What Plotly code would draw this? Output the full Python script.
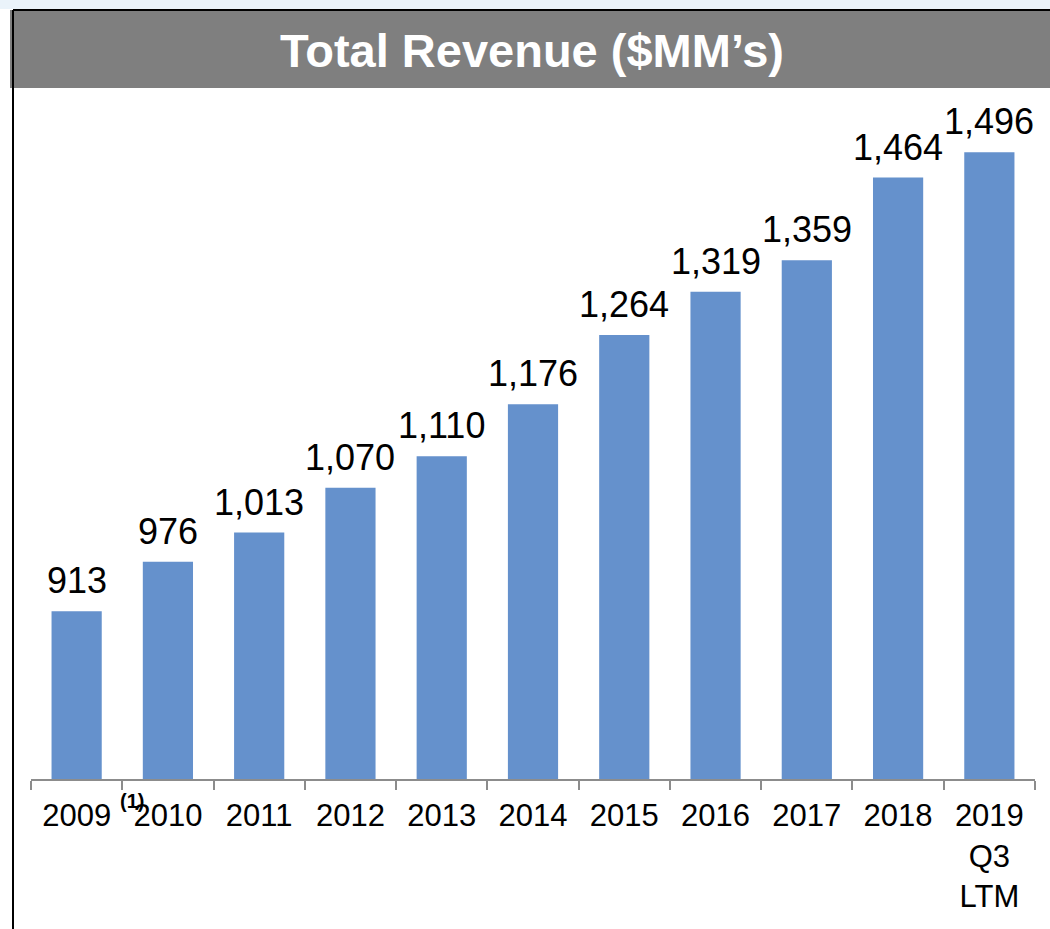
import plotly.graph_objects as go

# ---- data ----
categories = ["2009", "2010", "2011", "2012", "2013", "2014", "2015",
              "2016", "2017", "2018", "2019<br>Q3<br>LTM"]
revenue = [913, 976, 1013, 1070, 1110, 1176, 1264, 1319, 1359, 1464, 1496]
title_text = "Total Revenue ($MM\u2019s)"
footnote_text = "(1)"

FONT = "Liberation Sans, Arial, sans-serif"
BAR_COLOR = "#6591CC"

W, H = 1050, 929
ML, MR, MT, MB = 31, 15, 100, 150
PW = W - ML - MR
PH = H - MT - MB

def px_x(px):
    return (px - ML) / PW

def px_y(py):
    return (H - MB - py) / PH

fig = go.Figure()
fig.add_trace(go.Bar(
    x=categories, y=revenue,
    marker=dict(color=BAR_COLOR, line=dict(width=0)),
    hoverinfo="skip",
))

# data labels (x given as category index)
for i, v in enumerate(revenue):
    fig.add_annotation(
        x=i, y=v, xref="x", yref="y",
        text=f"{v:,}", showarrow=False,
        yanchor="bottom", yshift=8,
        font=dict(family=FONT, size=36, color="#000000"),
    )

# title bar
fig.add_shape(type="rect", xref="paper", yref="paper",
              x0=px_x(10), x1=px_x(1050), y0=px_y(88), y1=px_y(10),
              fillcolor="#7F7F7F", line=dict(width=0), layer="below")
fig.add_shape(type="line", xref="paper", yref="paper",
              x0=px_x(13), x1=px_x(1050), y0=px_y(10), y1=px_y(10),
              line=dict(color="#000000", width=2))
fig.add_shape(type="line", xref="paper", yref="paper",
              x0=px_x(13), x1=px_x(13), y0=px_y(10), y1=px_y(929),
              line=dict(color="#000000", width=2))
# light top strip
fig.add_shape(type="rect", xref="paper", yref="paper",
              x0=px_x(0), x1=px_x(1050), y0=px_y(9), y1=px_y(0),
              fillcolor="#EAF3FA", line=dict(width=0), layer="below")

fig.add_annotation(
    x=px_x(532), y=px_y(50), xref="paper", yref="paper",
    text=f"<b>{title_text}</b>", showarrow=False,
    xanchor="center", yanchor="middle",
    font=dict(family=FONT, size=47, color="#FFFFFF"),
)

# footnote marker
fig.add_annotation(
    x=0.61, y=px_y(801), xref="x", yref="paper",
    text=f"<b>{footnote_text}</b>", showarrow=False,
    xanchor="center", yanchor="middle",
    font=dict(family=FONT, size=20, color="#000000"),
)

fig.update_layout(
    width=W, height=H,
    margin=dict(l=ML, r=MR, t=MT, b=MB, pad=0),
    paper_bgcolor="#FFFFFF", plot_bgcolor="rgba(0,0,0,0)",
    showlegend=False,
    bargap=0.45,
    font=dict(family=FONT, color="#000000"),
)
fig.update_xaxes(
    type="category",
    range=[-0.5, len(categories) - 0.5],
    tickson="boundaries", ticks="outside", ticklen=9, tickwidth=2,
    tickcolor="#8C8C8C",
    ticklabelstandoff=8,
    showline=True, linecolor="#8C8C8C", linewidth=2,
    showgrid=False, zeroline=False,
    tickfont=dict(family=FONT, size=31, color="#000000"),
)
fig.update_yaxes(
    range=[700, 700 + PH / 0.7873],
    visible=False, showgrid=False, zeroline=False,
)

fig.write_html(
    "out.html",
    config={"displayModeBar": False},
    post_script="document.body.style.margin='0';document.body.style.overflow='hidden';",
)
